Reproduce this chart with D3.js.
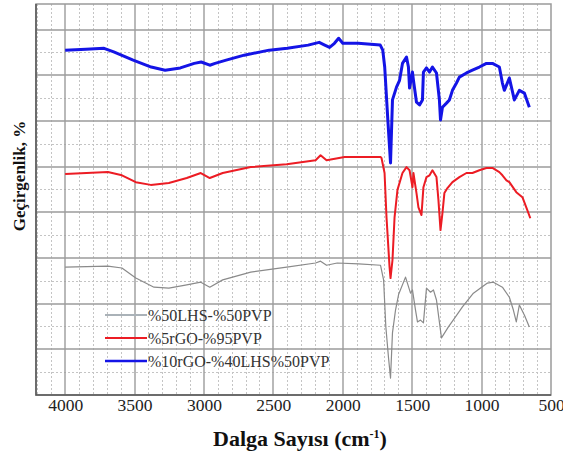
<!DOCTYPE html>
<html>
<head>
<meta charset="utf-8">
<script src="https://cdn.jsdelivr.net/npm/d3@7"></script>
<style>
  body { margin: 0; background: #fff; }
  .xaxis path { display: none; }
  .xaxis text { font-family: "Liberation Serif", "Times New Roman", serif; font-size: 17.5px; fill: #222; }
</style>
</head>
<body>
<script>
// FTIR spectra, transmittance in arbitrary (offset) units
var blueWave = [4000,3850,3720,3650,3510,3380,3280,3170,3070,3020,2958,2920,2840,2710,2530,2400,2250,2170,2130,2095,2060,2030,2000,1890,1730,1712,1698,1675,1656,1642,1613,1591,1570,1541,1527,1519,1498,1491,1469,1447,1426,1419,1397,1375,1354,1325,1304,1296,1282,1253,1232,1210,1181,1160,1109,1066,1016,965,922,872,850,836,800,764,728,692,656];
var blueT = [75.5,75.7,75.9,75.1,73.3,71.8,71.1,71.6,72.6,72.9,72.2,72.6,73.3,74.4,75.5,75.9,76.6,77.2,76.6,76.1,77.0,78.1,77.0,77.0,76.6,75.5,71.8,60.0,50.8,64.6,67.4,68.9,72.6,74.0,71.8,67.2,70.7,68.9,64.1,63.5,64.6,70.7,71.6,70.7,71.8,70.5,64.6,60.2,63.0,63.9,64.6,66.7,68.3,69.6,70.5,71.1,71.8,72.6,72.6,71.8,68.3,66.7,69.4,64.6,66.7,66.1,63.0];

var redWave = [4000,3692,3591,3491,3383,3253,3124,3023,2958,2865,2663,2404,2196,2160,2117,1987,1728,1721,1699,1685,1663,1656,1642,1627,1606,1570,1541,1519,1498,1491,1469,1455,1433,1419,1397,1375,1354,1325,1311,1296,1282,1268,1246,1210,1160,1109,1066,1016,965,922,872,850,821,800,750,706,678,649];
var redT = [48.4,48.8,48.1,46.6,46.0,46.4,47.5,48.6,47.5,48.6,49.9,50.5,51.4,52.5,51.4,52.1,52.1,51.9,48.6,38.9,28.0,25.6,29.5,38.9,44.9,48.6,49.9,49.2,45.5,48.6,44.2,41.1,39.4,45.5,47.7,48.1,49.2,47.7,42.7,36.1,39.8,44.2,45.3,46.6,47.7,48.6,48.6,49.2,49.7,49.7,48.8,48.1,47.0,46.6,44.4,43.3,41.1,38.7];

var grayWave = [4000,3692,3591,3491,3360,3253,3124,3023,2958,2865,2663,2404,2196,2160,2117,2040,1886,1728,1706,1690,1670,1656,1642,1620,1598,1548,1512,1498,1476,1462,1440,1419,1397,1368,1347,1325,1289,1239,1188,1138,1059,958,915,850,800,771,750,728,692,656];
var grayT = [28.0,28.2,27.8,25.6,23.6,23.4,24.1,24.7,23.6,25.2,26.9,28.0,28.9,29.3,28.4,28.9,28.7,28.4,25.2,15.0,8.0,3.7,13.6,18.6,22.0,25.8,22.3,23.0,18.6,16.0,16.4,15.8,23.4,22.5,23.0,20.8,12.5,14.9,17.1,19.3,22.3,24.5,24.7,23.6,21.4,18.6,16.0,19.7,17.5,14.9];

var xTicks = [4000,3500,3000,2500,2000,1500,1000,500];
var legendNames = ["%50LHS-%50PVP", "%5rGO-%95PVP", "%10rGO-%40LHS%50PVP"];
var colors = ["#8a8a8a", "#ec1c24", "#1414e6"];
var widths = [1.2, 2, 3];

var W = 563, H = 457;
var pLeft = 36, pRight = 551, pTop = 4, pBottom = 395;

var x = d3.scaleLinear().domain([4210, 500]).range([pLeft, pRight]);
var y = d3.scaleLinear().domain([0, 85.6]).range([pBottom, pTop]);

var svg = d3.select("body").append("svg")
  .attr("width", W)
  .attr("height", H);

var xMinor = d3.range(4200, 500, -100).filter(function(d) { return d % 500 != 0; });
var yMinor = d3.range(5, 85, 10);
var xMajor = xTicks.slice(0, -1);
var yMajor = d3.range(10, 81, 10);

// minor grid (dotted)
svg.append("path")
  .attr("d", xMinor.map(function(d) { return "M" + (Math.round(x(d)) + 0.5) + "," + pTop + "V" + pBottom; }).join("")
           + yMinor.map(function(d) { return "M" + pLeft + "," + (Math.round(y(d)) + 0.5) + "H" + pRight; }).join(""))
  .attr("fill", "none")
  .attr("stroke", "#c4c4c4")
  .attr("stroke-dasharray", "2,2");

// major grid, slightly soft like the scanned original
svg.append("path")
  .attr("d", xMajor.map(function(d) { return "M" + Math.round(x(d)) + "," + pTop + "V" + pBottom; }).join("")
           + yMajor.map(function(d) { return "M" + pLeft + "," + Math.round(y(d)) + "H" + pRight; }).join(""))
  .attr("fill", "none")
  .attr("stroke", "#9c9c9c")
  .attr("stroke-width", 1.4);

// frame
svg.append("rect")
  .attr("x", pLeft).attr("y", pTop)
  .attr("width", pRight - pLeft).attr("height", pBottom - pTop)
  .attr("fill", "none")
  .attr("stroke", "#9a9a9a")
  .attr("stroke-width", 1.5);
svg.append("path")
  .attr("d", "M" + pLeft + "," + pTop + "V" + pBottom + "H" + pRight)
  .attr("fill", "none")
  .attr("stroke", "#555")
  .attr("stroke-width", 1.5);

// x axis labels
svg.append("g")
  .attr("class", "xaxis")
  .attr("transform", "translate(0," + pBottom + ")")
  .call(d3.axisBottom(x).tickValues(xTicks).tickSize(0).tickPadding(4).tickFormat(d3.format("d")));

// spectra
var line = d3.line()
  .x(function(d) { return x(d[0]); })
  .y(function(d) { return y(d[1]); });

var series = [
  d3.zip(grayWave, grayT),
  d3.zip(redWave, redT),
  d3.zip(blueWave, blueT)
];

svg.selectAll(".spec")
  .data(series)
  .enter().append("path")
    .attr("class", "spec")
    .attr("d", line)
    .attr("fill", "none")
    .attr("stroke", function(d, i) { return colors[i]; })
    .attr("stroke-width", function(d, i) { return widths[i]; })
    .attr("stroke-linejoin", "round");

// legend
var leg = svg.selectAll(".leg")
  .data(legendNames)
  .enter().append("g")
    .attr("class", "leg")
    .attr("transform", function(d, i) { return "translate(105," + (315 + i * 23) + ")"; });
leg.append("line")
  .attr("x1", 0).attr("x2", 42)
  .attr("stroke", function(d, i) { return i == 0 ? "#aab2b8" : colors[i]; })
  .attr("stroke-width", function(d, i) { return i == 2 ? 2.5 : 2; });
leg.append("text")
  .attr("x", 43)
  .attr("dy", "0.35em")
  .style("font-family", "Liberation Serif, Times New Roman, serif")
  .style("font-size", "16px")
  .style("fill", "#333")
  .text(function(d) { return d; });

// axis titles
var xt = svg.append("text")
  .attr("x", 300)
  .attr("y", 446)
  .attr("text-anchor", "middle")
  .style("font-family", "Liberation Serif, Times New Roman, serif")
  .style("font-weight", "bold")
  .style("font-size", "22px")
  .style("fill", "#111");
xt.append("tspan").text("Dalga Sayısı (cm");
xt.append("tspan").attr("dy", -8).style("font-size", "12px").text("-1");
xt.append("tspan").attr("dy", 8).text(")");

svg.append("text")
  .attr("transform", "translate(25,176) rotate(-90)")
  .attr("text-anchor", "middle")
  .style("font-family", "Liberation Serif, Times New Roman, serif")
  .style("font-weight", "bold")
  .style("font-size", "17px")
  .style("fill", "#111")
  .text("Geçirgenlik, %");
</script>
</body>
</html>
